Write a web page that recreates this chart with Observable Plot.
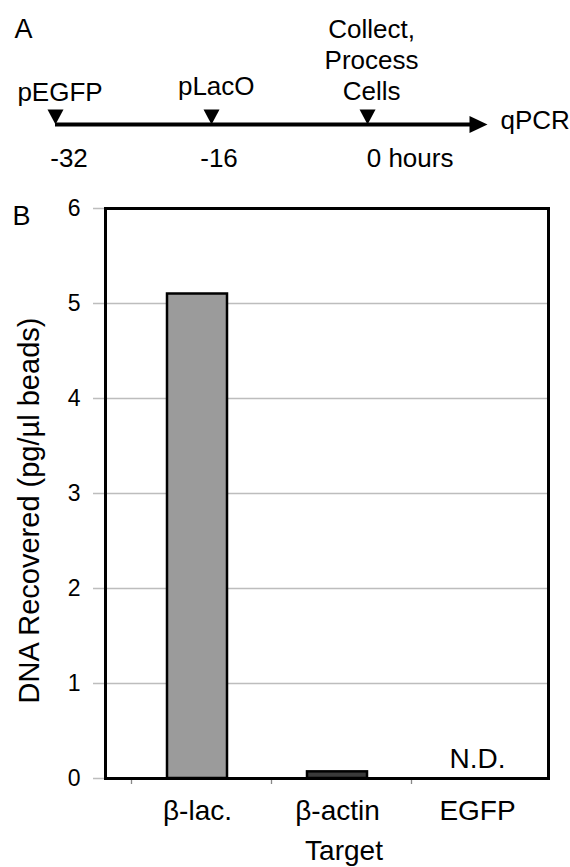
<!DOCTYPE html>
<html><head><meta charset="utf-8">
<script src="https://cdn.jsdelivr.net/npm/d3@7"></script>
<script src="https://cdn.jsdelivr.net/npm/@observablehq/plot@0.6"></script>
<style>
html,body{margin:0;padding:0;background:#fff;overflow:hidden;}
svg{display:block;}
</style></head><body>
<script>
// ---- Panel A data: timeline ----
const eventTimes = [-32, -16, 0];
const eventLabels = ["pEGFP", "pLacO", "Collect,\nProcess\nCells"];
const timeTickLabels = ["-32", "-16", "0 hours"];
const endTime = 12.3;
const endLabel = "qPCR";

// ---- Panel B data: bar chart ----
const targets = ["β-lac.", "β-actin", "EGFP"];
const dnaRecovered = [5.1, 0.07, null];
const yTicks = [0, 1, 2, 3, 4, 5, 6];
const notDetectedLabel = "N.D.";
const xLabel = "Target";
const yLabel = "DNA Recovered (pg/µl beads)";

// ---- layout / styles ----
const FONT = "'Liberation Sans', Arial, Helvetica, sans-serif";
const eventLabelOffsets = [{dx: 4.5, dy: -46}, {dx: 4.7, dy: -52}, {dx: 4, dy: -109}];
const tickLabelOffsets = [{dx: 13.5, dy: 24}, {dx: 7.5, dy: 24}, {dx: 42.5, dy: 24}];
const barFill = {"β-lac.": "#9b9b9b", "β-actin": "#3a3a3a", "EGFP": "#3a3a3a"};

const triDown = {draw(ctx) { ctx.moveTo(0, 0); ctx.lineTo(-8, -15); ctx.lineTo(8, -15); ctx.closePath(); }};
const triRight = {draw(ctx) { ctx.moveTo(0, 0); ctx.lineTo(-18, -8.5); ctx.lineTo(-18, 8.5); ctx.closePath(); }};

const idx = eventTimes.map((_, i) => i);

const panelA = Plot.plot({
  width: 570, height: 190, margin: 0,
  style: {fontFamily: FONT, fontSize: "26px", color: "black", background: "white", overflow: "visible"},
  x: {domain: [eventTimes[0], endTime], range: [55, 487], axis: null},
  y: {domain: [0, 1], range: [124, 24], axis: null},
  marks: [
    Plot.ruleY([0], {x1: () => eventTimes[0], x2: () => endTime, insetRight: 10, stroke: "black", strokeWidth: 4}),
    Plot.dot(eventTimes, {x: d => d, y: () => 0, symbol: triDown, r: 5, fill: "black", stroke: "none"}),
    Plot.dot([endTime], {x: d => d, y: () => 0, symbol: triRight, r: 5, fill: "black", stroke: "none"}),
    ...idx.map(i => Plot.text([i], {
      x: j => eventTimes[j], y: () => 0, text: j => eventLabels[j],
      dx: eventLabelOffsets[i].dx, dy: eventLabelOffsets[i].dy,
      lineAnchor: "top", lineHeight: 1.2, fontSize: 26, textAnchor: "middle"
    })),
    ...idx.map(i => Plot.text([i], {
      x: j => eventTimes[j], y: () => 0, text: j => timeTickLabels[j],
      dx: tickLabelOffsets[i].dx, dy: tickLabelOffsets[i].dy,
      lineAnchor: "top", fontSize: 26, textAnchor: "middle"
    })),
    Plot.text([endLabel], {x: () => endTime, y: () => 0, text: d => d, textAnchor: "start", dx: 13, dy: -4, lineAnchor: "middle", fontSize: 26}),
    Plot.text(["A"], {text: d => d, frameAnchor: "top-left", textAnchor: "start", lineAnchor: "top", dx: 14, dy: 18, fontSize: 27})
  ]
});

const data = targets.map((t, i) => ({target: t, value: dnaRecovered[i]}));

const panelB = Plot.plot({
  width: 570, height: 677,
  marginTop: 18, marginBottom: 89, marginLeft: 105, marginRight: 22,
  style: {fontFamily: FONT, fontSize: "23px", color: "black", background: "white", overflow: "visible"},
  x: {type: "band", domain: targets, paddingInner: 0.572, paddingOuter: 0.365, align: 0.6},
  y: {domain: [0, 6]},
  marks: [
    Plot.ruleY(yTicks, {y: d => d, stroke: "#bdbdbd", strokeWidth: 1.3, insetLeft: -12}),
    Plot.ruleX(targets, {x: d => d, dx: -66, y1: () => 0, y2: () => 0, insetBottom: -6, stroke: "#888", strokeWidth: 1.3}),
    Plot.barY(data.filter(d => d.value != null), {x: "target", y: "value", fill: d => barFill[d.target], stroke: "black", strokeWidth: 2.5}),
    Plot.frame({stroke: "black", strokeWidth: 3}),
    Plot.axisY({ticks: yTicks, tickSize: 0, tickPadding: 25, fontSize: 23, tickFormat: d3.format("d"), label: null}),
    Plot.axisX({tickSize: 0, tickPadding: 22, fontSize: 28, label: null}),
    Plot.text(data.filter(d => d.value == null), {x: "target", y: () => 0, text: () => notDetectedLabel, dy: -19, fontSize: 28, lineAnchor: "middle"}),
    Plot.text([xLabel], {text: d => d, frameAnchor: "bottom", textAnchor: "middle", dx: 17, dy: 73, fontSize: 28, lineAnchor: "middle"}),
    Plot.text([yLabel], {text: d => d, frameAnchor: "left", textAnchor: "middle", rotate: -90, dx: -76, dy: 17, fontSize: 29, lineAnchor: "middle"}),
    Plot.text(["B"], {text: d => d, frameAnchor: "top-left", textAnchor: "start", lineAnchor: "top", dx: -93, dy: -3, fontSize: 27})
  ]
});

document.body.appendChild(panelA);
document.body.appendChild(panelB);
</script>
</body></html>
